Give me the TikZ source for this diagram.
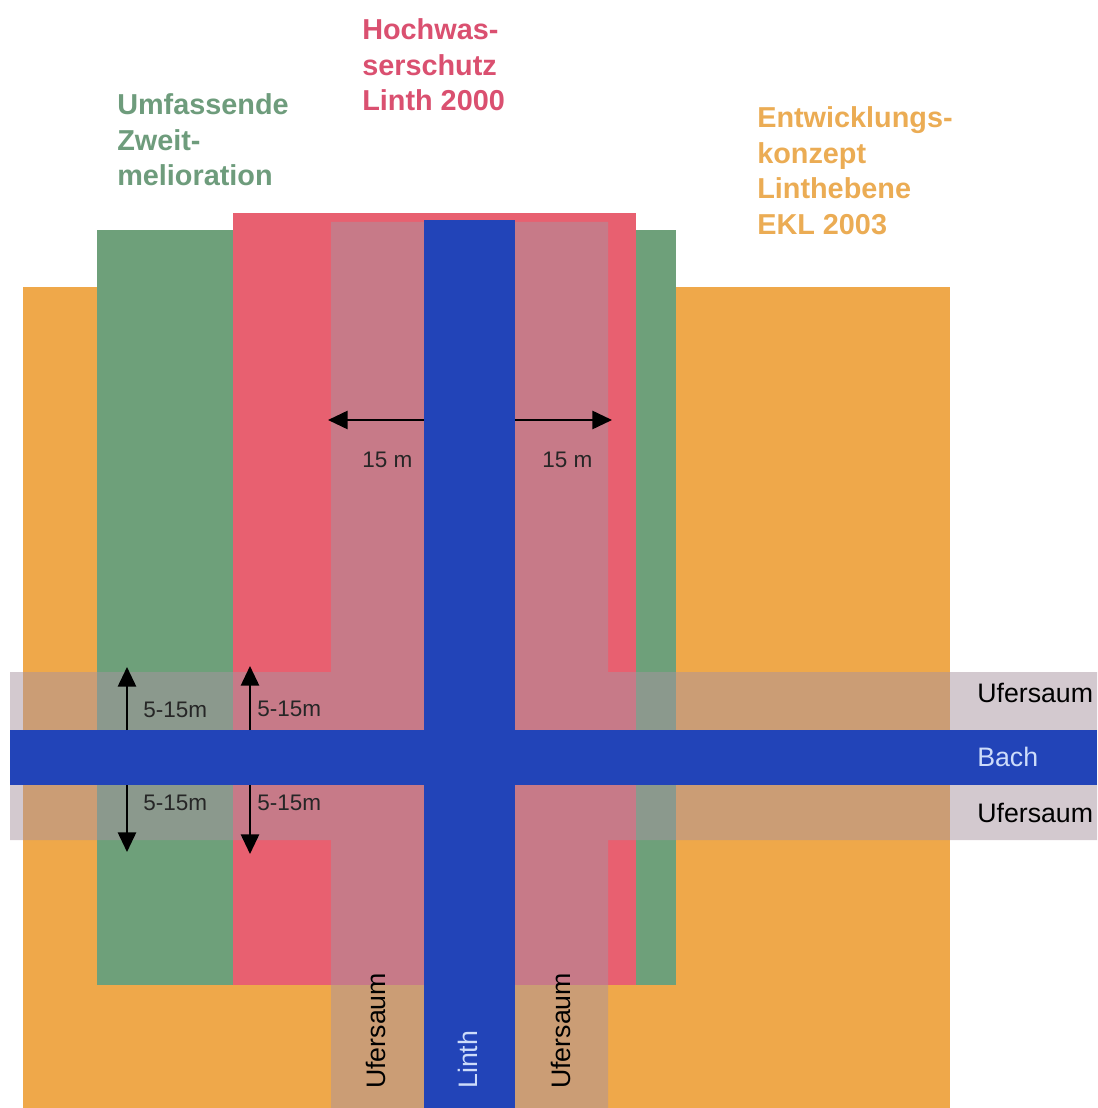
\documentclass[tikz,border=0pt]{standalone}
\usepackage{fontspec}
\setmainfont{Liberation Sans}
\usepackage{xcolor}
\usepackage{tikz}
\usetikzlibrary{arrows.meta}

\definecolor{ekl}{RGB}{239,168,74}
\definecolor{melio}{RGB}{110,160,122}
\definecolor{hws}{RGB}{232,96,112}
\definecolor{wasser}{RGB}{34,68,184}
\definecolor{saum}{RGB}{168,148,160}
\definecolor{meliotext}{RGB}{110,156,124}
\definecolor{hwstext}{RGB}{218,80,112}
\definecolor{ekltext}{RGB}{235,172,84}
\definecolor{hellblau}{RGB}{205,220,250}

\begin{document}
\begin{tikzpicture}[x=0.025cm,y=-0.025cm,
    titel/.style={anchor=north west,inner sep=0pt,align=left,font=\fontsize{20.5}{25.5}\selectfont\bfseries},
    masstext/.style={anchor=base west,inner sep=0pt,text=black!85,font=\fontsize{16}{19}\selectfont},
    beschrift/.style={anchor=base west,inner sep=0pt,font=\fontsize{19}{23}\selectfont},
    pfeil/.style={-{Triangle[length=14pt,width=13pt]},line width=1.4pt}]
    \useasboundingbox (0,0) rectangle (1097,1108);

    % Flaechen
    \fill[ekl] (23,287) rectangle (950,1108);
    \fill[melio] (97,230) rectangle (676,985);
    \fill[hws] (233,213) rectangle (636,985);
    \fill[saum,opacity=0.5] (331,222) rectangle (608,1108) (10,672) rectangle (1097,840);
    \fill[wasser] (424,220) rectangle (515,1108);
    \fill[wasser] (10,730) rectangle (1097,785);

    % Titel
    \node[titel,text=meliotext] (melio) at (117,93) {Umfassende\\Zweit-\\melioration};
    \node[titel,text=hwstext] (hws) at (362,18) {Hochwas-\\serschutz\\Linth 2000};
    \node[titel,text=ekltext] (ekl) at (757,106) {Entwicklungs-\\konzept\\Linthebene\\EKL 2003};

    % 15 m
    \coordinate (linthL) at (424,420);
    \coordinate (saumL) at (328,420);
    \coordinate (linthR) at (515,420);
    \coordinate (saumR) at (612,420);
    \draw[pfeil] (linthL) -- (saumL);
    \draw[pfeil] (linthR) -- (saumR);
    \node[masstext] (mL) at (362,467) {15 m};
    \node[masstext] (mR) at (542,467) {15 m};

    % 5-15m
    \coordinate (bachA) at (127,730);
    \coordinate (bachB) at (250,730);
    \coordinate (bachC) at (127,785);
    \coordinate (bachD) at (250,785);
    \coordinate (obenA) at (127,667);
    \coordinate (obenB) at (250,666);
    \coordinate (untenA) at (127,852);
    \coordinate (untenB) at (250,854);
    \draw[pfeil] (bachA) -- (obenA);
    \draw[pfeil] (bachB) -- (obenB);
    \draw[pfeil] (bachC) -- (untenA);
    \draw[pfeil] (bachD) -- (untenB);
    \node[masstext] (oA) at (143,717) {5-15m};
    \node[masstext] (oB) at (257,716) {5-15m};
    \node[masstext] (uA) at (143,810) {5-15m};
    \node[masstext] (uB) at (257,810) {5-15m};

    % Gewaesser und Ufersaum
    \node[beschrift] (saum1) at (977,702) {Ufersaum};
    \node[beschrift,text=hellblau] (bach) at (977,766) {Bach};
    \node[beschrift] (saum2) at (977,822) {Ufersaum};
    \node[beschrift,rotate=90] (saum3) at (385,1089) {Ufersaum};
    \node[beschrift,rotate=90,text=hellblau] (linth) at (477,1089) {Linth};
    \node[beschrift,rotate=90] (saum4) at (570,1089) {Ufersaum};
\end{tikzpicture}
\end{document}
